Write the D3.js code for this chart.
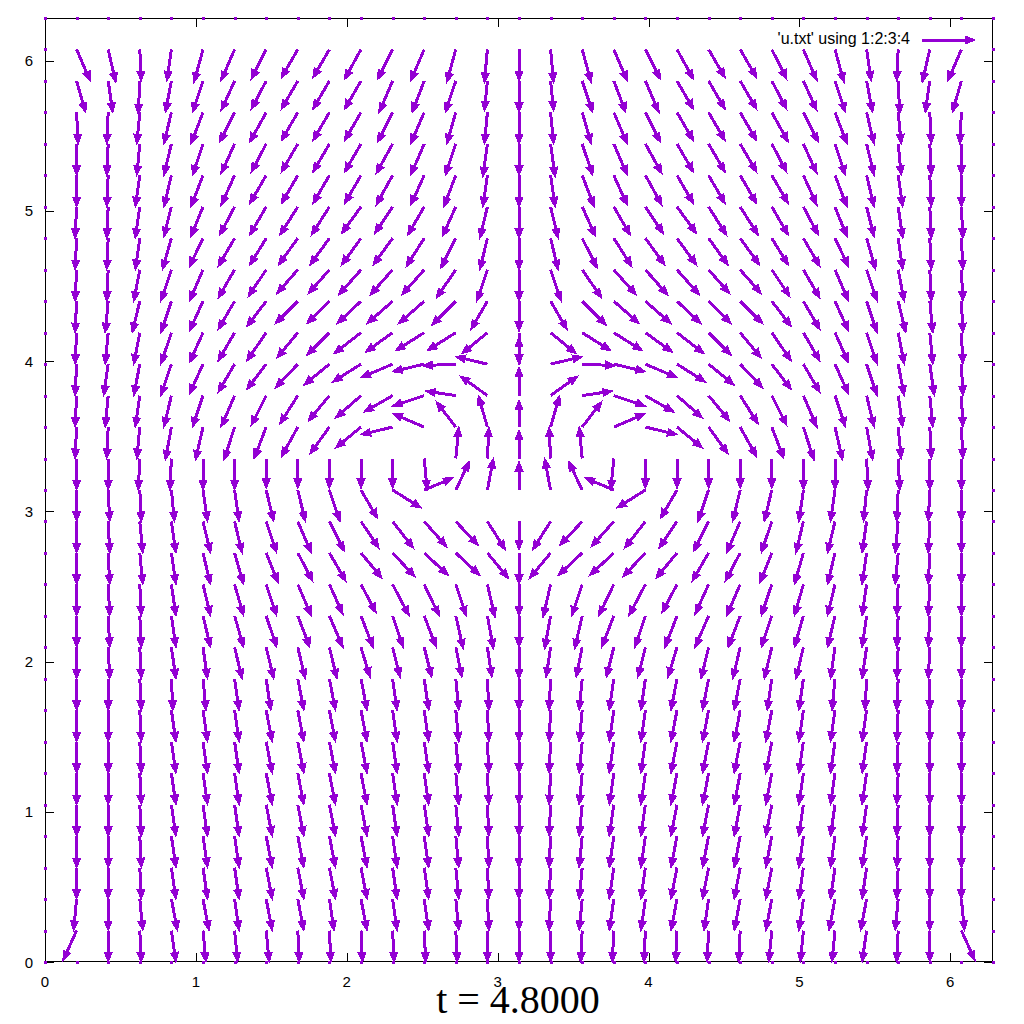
<!DOCTYPE html>
<html>
<head>
<meta charset="utf-8">
<script src="https://cdn.jsdelivr.net/npm/d3@7"></script>
<style>
  html, body { margin: 0; padding: 0; background: #fff; }
  svg { display: block; }
</style>
</head>
<body>
<svg id="chart" width="1024" height="1024"></svg>
<script>
// ---------------- data ----------------
// grid: 31 x 31 points, x_i = i*2pi/30, y_j = j*2pi/30; boundary points have zero velocity
const gridN = 30;
const xTicks = [0, 1, 2, 3, 4, 5, 6];
const yTicks = [0, 1, 2, 3, 4, 5, 6];
const titleText = "t = 4.8000";
const legendText = "'u.txt' using 1:2:3:4";
// vector components (hundredths of a data unit) for interior rows j = 1..29, columns i = 1..29
const uRows = [
 [-9,0,1,3,2,2,2,1,1,1,1,1,1,0,0,0,-1,-1,-1,-1,-1,-1,-2,-2,-2,-3,-1,0,9],
 [-2,0,2,4,4,3,4,4,3,4,3,3,2,1,0,-1,-2,-3,-3,-4,-3,-4,-4,-3,-4,-4,-2,0,2],
 [0,0,1,3,3,3,4,4,4,4,3,3,2,1,0,-1,-2,-3,-3,-4,-4,-4,-4,-3,-3,-3,-1,0,0],
 [0,0,1,3,3,3,4,4,4,4,3,3,2,1,0,-1,-2,-3,-3,-4,-4,-4,-4,-3,-3,-3,-1,0,0],
 [0,0,1,3,3,3,4,4,4,4,3,3,2,1,0,-1,-2,-3,-3,-4,-4,-4,-4,-3,-3,-3,-1,0,0],
 [0,0,1,3,3,3,4,4,4,4,3,3,2,1,0,-1,-2,-3,-3,-4,-4,-4,-4,-3,-3,-3,-1,0,0],
 [0,0,1,3,3,3,4,4,4,4,3,3,2,1,0,-1,-2,-3,-3,-4,-4,-4,-4,-3,-3,-3,-1,0,0],
 [0,0,1,3,3,3,4,4,4,4,3,3,2,1,0,-1,-2,-3,-3,-4,-4,-4,-4,-3,-3,-3,-1,0,0],
 [0,0,1,1,2,3,3,4,4,4,3,3,2,1,0,-1,-2,-3,-3,-4,-4,-4,-3,-3,-2,-1,-1,0,0],
 [0,1,1,3,3,5,5,5,5,6,5,5,4,3,0,-3,-4,-5,-5,-6,-5,-5,-5,-5,-3,-3,-1,-1,0],
 [0,1,1,3,5,6,7,8,9,8,7,8,5,4,0,-4,-5,-8,-7,-8,-9,-8,-7,-6,-5,-3,-1,-1,0],
 [0,1,1,3,5,6,7,9,9,10,11,10,7,5,0,-5,-7,-10,-11,-10,-9,-9,-7,-6,-5,-3,-1,-1,0],
 [0,1,2,3,5,6,8,10,11,14,15,16,16,14,0,-14,-16,-16,-15,-14,-11,-10,-8,-6,-5,-3,-2,-1,0],
 [0,1,2,3,5,5,7,9,10,12,14,15,15,12,0,-12,-15,-15,-14,-12,-10,-9,-7,-5,-5,-3,-2,-1,0],
 [0,1,1,2,3,3,5,5,7,11,19,19,9,4,0,-4,-9,-19,-19,-11,-7,-5,-5,-3,-3,-2,-1,-1,0],
 [0,0,-1,-1,0,0,0,0,0,0,0,2,2,1,0,-1,-2,-2,0,0,0,0,0,0,0,1,1,0,0],
 [-1,-1,-2,-4,-5,-7,-8,-11,-13,-17,-21,-21,-13,-6,0,6,13,21,21,17,13,11,8,7,5,4,2,1,1],
 [-1,-2,-3,-5,-7,-9,-10,-12,-14,-17,-19,-21,-20,-18,0,18,20,21,19,17,14,12,10,9,7,5,3,2,1],
 [-1,-3,-4,-7,-9,-11,-13,-15,-17,-19,-21,-21,-22,-21,0,21,22,21,21,19,17,15,13,11,9,7,4,3,1],
 [-1,-2,-4,-7,-9,-11,-13,-14,-15,-18,-18,-19,-19,-17,0,17,19,19,18,18,15,14,13,11,9,7,4,2,1],
 [-1,-2,-5,-7,-9,-11,-13,-15,-15,-16,-17,-17,-16,-11,0,11,16,17,17,16,15,15,13,11,9,7,5,2,1],
 [-1,-1,-4,-7,-9,-11,-12,-14,-14,-15,-15,-15,-13,-7,0,7,13,15,15,15,14,14,12,11,9,7,4,1,1],
 [-1,-1,-3,-6,-9,-11,-11,-13,-13,-13,-13,-12,-10,-5,0,5,10,12,13,13,13,13,11,11,9,6,3,1,1],
 [-1,-1,-3,-5,-8,-10,-11,-12,-12,-13,-12,-11,-9,-5,0,5,9,11,12,13,12,12,11,10,8,5,3,1,1],
 [0,-1,-3,-5,-8,-9,-11,-11,-11,-11,-11,-9,-8,-3,0,3,8,9,11,11,11,11,11,9,8,5,3,1,0],
 [0,-1,-2,-5,-7,-9,-10,-11,-11,-11,-11,-9,-7,-3,0,3,7,9,11,11,11,11,10,9,7,5,2,1,0],
 [1,-1,-2,-5,-8,-10,-11,-11,-11,-11,-10,-9,-6,-2,0,2,6,9,10,11,11,11,11,10,8,5,2,1,-1],
 [6,3,-1,-4,-7,-9,-10,-11,-11,-11,-9,-8,-7,-2,0,2,7,8,9,11,11,11,10,9,7,4,1,-3,-6],
 [9,5,1,-3,-6,-9,-10,-11,-11,-11,-10,-9,-6,-2,0,2,6,9,10,11,11,11,10,9,6,3,-1,-5,-9]
];
const vRows = [
 [-20,-21,-21,-21,-21,-21,-21,-21,-21,-21,-21,-21,-21,-21,-21,-21,-21,-21,-21,-21,-21,-21,-21,-21,-21,-21,-21,-21,-20],
 [-21,-21,-21,-21,-21,-21,-21,-21,-21,-21,-21,-21,-21,-21,-21,-21,-21,-21,-21,-21,-21,-21,-21,-21,-21,-21,-21,-21,-21],
 [-21,-21,-21,-21,-21,-21,-21,-21,-21,-21,-21,-21,-21,-21,-21,-21,-21,-21,-21,-21,-21,-21,-21,-21,-21,-21,-21,-21,-21],
 [-21,-21,-21,-21,-21,-21,-21,-21,-21,-21,-21,-21,-21,-21,-21,-21,-21,-21,-21,-21,-21,-21,-21,-21,-21,-21,-21,-21,-21],
 [-21,-21,-21,-21,-21,-21,-21,-21,-21,-21,-21,-21,-21,-21,-21,-21,-21,-21,-21,-21,-21,-21,-21,-21,-21,-21,-21,-21,-21],
 [-21,-21,-21,-21,-21,-21,-21,-21,-21,-21,-21,-21,-21,-21,-21,-21,-21,-21,-21,-21,-21,-21,-21,-21,-21,-21,-21,-21,-21],
 [-21,-21,-21,-21,-21,-21,-21,-21,-21,-21,-21,-21,-21,-21,-21,-21,-21,-21,-21,-21,-21,-21,-21,-21,-21,-21,-21,-21,-21],
 [-21,-21,-21,-21,-21,-21,-21,-21,-21,-21,-21,-21,-21,-21,-21,-21,-21,-21,-21,-21,-21,-21,-21,-21,-21,-21,-21,-21,-21],
 [-21,-21,-21,-21,-21,-21,-21,-21,-21,-21,-21,-21,-21,-21,-21,-21,-21,-21,-21,-21,-21,-21,-21,-21,-21,-21,-21,-21,-21],
 [-21,-21,-21,-21,-21,-21,-21,-21,-21,-20,-20,-20,-20,-20,-21,-20,-20,-20,-20,-20,-21,-21,-21,-21,-21,-21,-21,-21,-21],
 [-21,-21,-21,-21,-21,-21,-21,-21,-21,-21,-21,-21,-22,-22,-21,-22,-22,-21,-21,-21,-21,-21,-21,-21,-21,-21,-21,-21,-21],
 [-21,-21,-21,-21,-21,-21,-21,-21,-20,-19,-21,-21,-21,-22,-21,-22,-21,-21,-21,-19,-20,-21,-21,-21,-21,-21,-21,-21,-21],
 [-21,-21,-21,-21,-21,-21,-20,-19,-19,-17,-16,-15,-15,-17,-21,-17,-15,-15,-16,-17,-19,-19,-20,-21,-21,-21,-21,-21,-21],
 [-21,-21,-21,-21,-21,-21,-21,-21,-20,-18,-18,-17,-16,-19,-19,-19,-16,-17,-18,-18,-20,-21,-21,-21,-21,-21,-21,-21,-21],
 [-21,-21,-21,-21,-21,-21,-21,-21,-21,-19,-12,8,19,21,19,21,19,8,-12,-19,-21,-21,-21,-21,-21,-21,-21,-21,-21],
 [-21,-21,-21,-21,-21,-21,-20,-20,-20,-20,-20,-21,21,21,19,21,21,-21,-20,-20,-20,-20,-20,-21,-21,-21,-21,-21,-21],
 [-21,-21,-21,-22,-22,-22,-21,-20,-18,-14,-5,9,17,21,18,21,17,9,-5,-14,-18,-20,-21,-22,-22,-22,-21,-21,-21],
 [-21,-21,-21,-21,-21,-21,-20,-19,-17,-15,-11,-7,3,13,19,13,3,-7,-11,-15,-17,-19,-20,-21,-21,-21,-21,-21,-21],
 [-21,-21,-21,-21,-20,-19,-17,-16,-14,-12,-9,-5,-1,5,18,5,-1,-5,-9,-12,-14,-16,-17,-19,-20,-21,-21,-21,-21],
 [-21,-21,-21,-21,-20,-19,-19,-17,-15,-14,-13,-12,-12,-14,-21,-14,-12,-12,-13,-14,-15,-17,-19,-19,-20,-21,-21,-21,-21],
 [-21,-21,-21,-21,-20,-19,-17,-15,-15,-15,-15,-15,-16,-19,-20,-19,-16,-15,-15,-15,-15,-15,-17,-19,-20,-21,-21,-21,-21],
 [-21,-21,-21,-21,-21,-19,-18,-16,-16,-17,-17,-17,-19,-21,-21,-21,-19,-17,-17,-17,-16,-16,-18,-19,-21,-21,-21,-21,-21],
 [-21,-21,-21,-21,-19,-19,-18,-18,-18,-18,-18,-19,-20,-21,-21,-21,-20,-19,-18,-18,-18,-18,-18,-19,-19,-21,-21,-21,-21],
 [-21,-21,-21,-20,-20,-19,-19,-19,-19,-18,-18,-19,-20,-21,-21,-21,-20,-19,-18,-18,-19,-19,-19,-19,-20,-20,-21,-21,-21],
 [-21,-21,-21,-21,-21,-20,-19,-19,-19,-19,-20,-20,-21,-21,-21,-21,-21,-20,-20,-19,-19,-19,-19,-20,-21,-21,-21,-21,-21],
 [-21,-21,-21,-21,-21,-20,-19,-19,-19,-19,-20,-21,-21,-22,-21,-22,-21,-21,-20,-19,-19,-19,-19,-20,-21,-21,-21,-21,-21],
 [-21,-21,-21,-21,-21,-20,-20,-19,-19,-19,-20,-21,-21,-21,-21,-21,-21,-21,-20,-19,-19,-19,-20,-20,-21,-21,-21,-21,-21],
 [-21,-21,-22,-21,-21,-20,-19,-19,-19,-19,-21,-21,-21,-20,-21,-20,-21,-21,-21,-19,-19,-19,-19,-20,-21,-21,-22,-21,-21],
 [-21,-22,-21,-21,-22,-21,-20,-19,-19,-20,-20,-21,-22,-22,-21,-22,-22,-21,-20,-20,-19,-19,-20,-21,-22,-21,-21,-22,-21]
];

// ---------------- drawing ----------------
const COLOR = "#9400d3";
const L = 2 * Math.PI;
const svg = d3.select("#chart");
const x = d3.scaleLinear().domain([0, L]).range([45, 993]);
const y = d3.scaleLinear().domain([0, L]).range([962, 18]);
const h = L / gridN;

// build vector records
const vectors = [];
uRows.forEach((row, r) => {
  const j = r + 1;
  row.forEach((u, c) => {
    const i = c + 1;
    vectors.push({ x0: i * h, y0: j * h, u: u / 100, v: vRows[r][c] / 100 });
  });
});
const wallPts = [];
for (let k = 0; k <= gridN; k++) {
  wallPts.push({ x0: 0, y0: k * h }, { x0: L, y0: k * h });
  if (k > 0 && k < gridN) wallPts.push({ x0: k * h, y0: 0 }, { x0: k * h, y0: L });
}

// frame
const g = svg.append("g");
g.append("rect").attr("x", 45.5).attr("y", 18.5).attr("width", 947).attr("height", 943)
  .attr("fill", "none").attr("stroke", "#000").attr("stroke-width", 1);

// ticks
const tickLen = 9;
xTicks.forEach(t => {
  const px = Math.round(x(t)) + 0.5;
  g.append("line").attr("x1", px).attr("x2", px).attr("y1", 962).attr("y2", 962 - tickLen).attr("stroke", "#000");
  g.append("line").attr("x1", px).attr("x2", px).attr("y1", 18).attr("y2", 18 + tickLen).attr("stroke", "#000");
  g.append("text").attr("x", x(t)).attr("y", 987).attr("text-anchor", "middle")
    .attr("font-family", "Liberation Sans, Arial, sans-serif").attr("font-size", 15).attr("fill", "#000").text(t);
});
yTicks.forEach(t => {
  const py = Math.round(y(t)) + 0.5;
  g.append("line").attr("x1", 45).attr("x2", 45 + tickLen).attr("y1", py).attr("y2", py).attr("stroke", "#000");
  g.append("line").attr("x1", 993).attr("x2", 993 - tickLen).attr("y1", py).attr("y2", py).attr("stroke", "#000");
  g.append("text").attr("x", 33).attr("y", y(t) + 5.5).attr("text-anchor", "end")
    .attr("font-family", "Liberation Sans, Arial, sans-serif").attr("font-size", 15).attr("fill", "#000").text(t);
});

// arrow helper
const HEAD_L = 9.5, HEAD_W = 3.8;
function arrowParts(x1, y1, x2, y2) {
  const dx = x2 - x1, dy = y2 - y1;
  const len = Math.hypot(dx, dy);
  const ux = dx / len, uy = dy / len;
  const bx = x2 - ux * HEAD_L, by = y2 - uy * HEAD_L;
  const px = -uy * HEAD_W, py = ux * HEAD_W;
  return {
    shaft: `M${x1},${y1}L${bx + ux * 2},${by + uy * 2}`,
    head: `M${x2},${y2}L${bx + px},${by + py}L${bx - px},${by - py}Z`
  };
}

const ag = svg.append("g").attr("shape-rendering", "crispEdges");
vectors.forEach(d => {
  const x1 = x(d.x0), y1 = y(d.y0), x2 = x(d.x0 + d.u), y2 = y(d.y0 + d.v);
  const p = arrowParts(x1, y1, x2, y2);
  ag.append("path").attr("d", p.shaft).attr("stroke", COLOR).attr("stroke-width", 3).attr("fill", "none");
  ag.append("path").attr("d", p.head).attr("fill", COLOR).attr("stroke", COLOR).attr("stroke-width", 1.2).attr("stroke-linejoin", "miter");
});

// zero vectors on the walls
ag.selectAll("rect.wall").data(wallPts).join("rect").attr("class", "wall")
  .attr("x", d => Math.round(x(d.x0)) - 1).attr("y", d => Math.round(y(d.y0)) - 1)
  .attr("width", 3).attr("height", 3).attr("fill", COLOR);

// legend
g.append("text").attr("x", 910).attr("y", 44).attr("text-anchor", "end")
  .attr("font-family", "Liberation Sans, Arial, sans-serif").attr("font-size", 16).attr("fill", "#000").text(legendText);
const lp = arrowParts(922, 40, 975, 40);
const lg = svg.append("g").attr("shape-rendering", "crispEdges");
lg.append("path").attr("d", lp.shaft).attr("stroke", COLOR).attr("stroke-width", 3);
lg.append("path").attr("d", lp.head).attr("fill", COLOR).attr("stroke", COLOR).attr("stroke-width", 1.2);

// title
svg.append("text").attr("x", 518).attr("y", 1013).attr("text-anchor", "middle")
  .attr("font-family", "Liberation Serif, Times New Roman, serif").attr("font-size", 40).attr("fill", "#000")
  .text(titleText);
</script>
</body>
</html>
